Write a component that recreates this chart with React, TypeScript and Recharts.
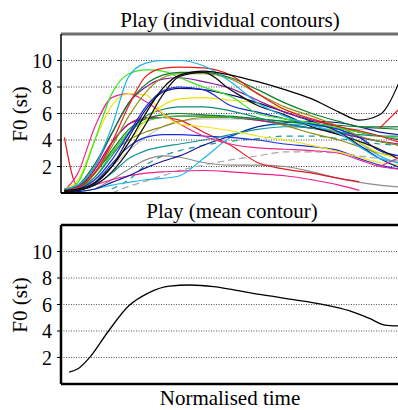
import { CartesianGrid, Line, LineChart, ReferenceLine, XAxis, YAxis } from "recharts";

const FONT = "Liberation Serif, Times New Roman, DejaVu Serif, serif";

// normalised time points shared by the individual contours
const time = [0.01, 0.05, 0.1, 0.15, 0.2, 0.25, 0.3, 0.35, 0.42, 0.5, 0.58, 0.66, 0.74, 0.82, 0.88, 0.94, 1.0];

// individual contours, F0 in semitones
const cyanPeak = [0.3, 0.6, 2.0, 5.0, 8.8, 9.8, 10.0, 10.0, 9.6, 8.4, 6.8, 5.8, 5.1, 4.5, 3.5, 2.6, 2.3];
const redPeak = [0.2, 0.4, 1.5, 3.8, 6.6, 8.8, 9.4, 9.5, 9.45, 8.9, 7.5, 6.3, 5.6, 5.0, 4.7, 4.3, 3.8];
const blackLong = [0.2, 0.3, 0.8, 2.0, 3.8, 6.0, 7.9, 8.9, 9.2, 8.9, 8.4, 7.8, 7.1, 6.1, 5.5, 5.9, 8.5];
const blackFall = [0.1, 0.2, 0.6, 1.6, 3.2, 5.2, 7.4, 8.8, 9.1, 7.8, 6.6, 5.9, 5.0, 4.4, 3.9, 3.3, 2.5];
const darkGreenPeak = [0.3, 0.6, 2.2, 4.5, 6.8, 8.2, 8.9, 9.1, 9.1, 8.7, 7.8, 6.8, 6.0, 5.4, 5.0, 4.9, 4.8];
const limePeak = [0.2, 0.8, 4.0, 7.5, 9.0, 9.3, 9.2, 8.7, 8.0, 7.3, 6.0, 5.6, 5.3, 4.9, 4.6, 4.3, 4.1];
const olivePeak = [0.2, 0.4, 1.5, 3.5, 5.8, 7.6, 8.7, 9.0, 9.0, 8.6, 7.5, 6.5, 5.8, 5.0, 4.3, 3.9, 3.6];
const purplePeak = [0.2, 0.5, 2.0, 4.5, 6.8, 8.0, 8.6, 8.7, 8.4, 7.9, 7.0, 6.1, 5.5, 5.0, 4.6, 4.3, 4.0];
const bluePeak = [0.1, 0.3, 1.0, 2.5, 4.5, 6.5, 7.7, 8.0, 7.8, 6.6, 6.1, 5.6, 5.2, 4.8, 4.2, 3.2, 2.8];
const navyPeak = [0.1, 0.2, 0.7, 2.0, 4.2, 6.3, 7.6, 7.9, 7.8, 7.4, 6.8, 6.1, 5.4, 4.6, 3.6, 2.6, 1.9];
const yellowEarly = [0.3, 1.0, 4.0, 6.6, 7.5, 7.4, 6.0, 5.2, 5.0, 4.7, 4.3, 4.0, 3.6, 3.1, 2.7, 2.3, 2.1];
const yellowLate = [0.2, 0.3, 0.8, 2.0, 3.8, 5.5, 6.6, 7.1, 7.2, 7.0, 6.8, 6.3, 5.5, 4.5, 3.8, 3.0, 2.6];
const pinkEarly = [0.2, 1.5, 5.0, 7.2, 7.5, 6.9, 6.0, 5.2, 4.3, 3.7, 3.4, 3.3, 3.2, 3.0, 2.5, 2.0, 1.8];
const pinkLow = [0.0, 0.2, 0.6, 1.0, 1.3, 1.5, 1.6, 1.65, 1.7, 1.6, 1.45, 1.3, 1.0, 0.6, 0.2, null, null];
const redDip = [4.2, 0.5, 1.8, 3.8, 5.2, 5.7, 5.7, 5.5, 4.6, 3.6, 2.3, 1.8, 1.5, 1.1, 0.85, null, null];
const tealHigh = [0.2, 0.4, 1.2, 2.8, 4.5, 5.8, 6.3, 6.5, 6.5, 6.2, 5.7, 5.2, 4.9, 4.6, 4.4, 4.3, 4.3];
const tealRise = [0.1, 0.2, 0.6, 1.5, 2.6, 3.2, 3.5, 3.7, 4.0, 4.4, 4.8, 5.0, 4.9, 4.6, 4.2, 3.9, 3.6];
const greenMid = [0.1, 0.3, 1.2, 3.0, 4.6, 5.4, 5.7, 5.8, 5.8, 5.7, 5.6, 5.4, 5.2, 4.9, 4.6, 4.3, 4.1];
const blueLow = [0.1, 0.2, 0.8, 2.2, 3.5, 4.2, 4.4, 4.4, 4.3, 4.2, 4.0, 3.7, 3.5, 3.2, 2.6, 2.1, 1.8];
const navyRise = [0.0, 0.1, 0.3, 0.8, 1.3, 1.9, 2.4, 2.8, 3.6, 4.3, 5.0, 5.3, 5.4, 5.3, 5.0, 4.6, 4.4];
const cyanRise = [0.0, 0.1, 0.3, 0.6, 0.8, 1.0, 1.1, 1.3, 2.6, 4.2, 5.0, 5.2, 5.1, 4.8, 3.8, 2.8, 2.2];
const grayArch = [null, null, 0.3, 1.0, 1.8, 2.5, 2.8, 2.7, 2.3, 2.1, 2.1, 2.0, 1.6, 1.1, 0.8, 0.6, 0.45];
const grayDashed = [null, null, null, 0.0, 0.5, 0.9, 1.3, 1.7, 2.1, 2.5, 2.8, 3.1, 3.1, 3.0, 2.8, 2.6, 2.4];
const silverMid = [0.1, 0.3, 1.0, 2.0, 3.2, 4.2, 5.0, 5.4, 5.6, 5.6, 5.5, 5.2, 4.9, 4.8, 4.8, 4.9, 5.0];
const oliveMid = [0.2, 0.5, 1.6, 3.0, 4.0, 4.6, 5.0, 5.4, 5.7, 5.7, 5.5, 5.1, 4.5, 4.0, 3.5, 3.0, 2.8];
const magentaMid = [0.1, 0.4, 1.8, 3.8, 5.2, 5.6, 5.7, 5.8, 5.8, 5.7, 5.5, 5.2, 4.9, 4.5, 4.2, 3.9, 3.7];
const greenFlat = [0.2, 0.5, 1.5, 3.2, 4.8, 5.6, 5.9, 6.0, 5.9, 5.8, 5.6, 5.4, 5.2, 5.1, 5.0, 5.0, 5.0];
const tealDashed = [null, null, null, 0.3, 1.0, 2.1, 2.8, 3.2, 3.6, 3.9, 4.1, 4.3, 4.3, 4.1, 3.9, 3.7, 3.6];
const redFlick = [null, null, null, null, null, null, null, null, null, null, null, null, null, null, null, 4.9, 6.4];
const pinkFlick = [null, null, null, null, null, null, null, null, null, null, null, null, null, null, null, 2.0, 2.7];

// mean contour
const meanTime = [0.024, 0.05, 0.086, 0.136, 0.2, 0.26, 0.32, 0.38, 0.45, 0.51, 0.6, 0.71, 0.8, 0.86, 0.91, 0.955, 1.0];
const meanF0 = [0.9, 1.15, 2.05, 3.85, 5.9, 6.9, 7.38, 7.47, 7.35, 7.1, 6.7, 6.28, 5.85, 5.45, 4.95, 4.45, 4.38];

const yTicks = [2, 4, 6, 8, 10];

const contours = [
  { key: "grayDashed", values: grayDashed, color: "#a8a8a8", dash: "7 4" },
  { key: "tealDashed", values: tealDashed, color: "#1a9a9a", dash: "6 5" },
  { key: "grayArch", values: grayArch, color: "#8c8c8c" },
  { key: "silverMid", values: silverMid, color: "#c4c4c4" },
  { key: "pinkLow", values: pinkLow, color: "#ec1e8c" },
  { key: "redDip", values: redDip, color: "#e8141e" },
  { key: "cyanRise", values: cyanRise, color: "#20b8ee" },
  { key: "navyRise", values: navyRise, color: "#141490" },
  { key: "blueLow", values: blueLow, color: "#1a2ee0" },
  { key: "tealRise", values: tealRise, color: "#149494" },
  { key: "oliveMid", values: oliveMid, color: "#8c8c14" },
  { key: "magentaMid", values: magentaMid, color: "#a0189c" },
  { key: "greenMid", values: greenMid, color: "#28d428" },
  { key: "greenFlat", values: greenFlat, color: "#0c7a30" },
  { key: "tealHigh", values: tealHigh, color: "#128a7a" },
  { key: "pinkEarly", values: pinkEarly, color: "#f0288c" },
  { key: "yellowEarly", values: yellowEarly, color: "#f4e414" },
  { key: "yellowLate", values: yellowLate, color: "#f0e000" },
  { key: "navyPeak", values: navyPeak, color: "#101080" },
  { key: "bluePeak", values: bluePeak, color: "#1428d8" },
  { key: "purplePeak", values: purplePeak, color: "#8e1a9e" },
  { key: "olivePeak", values: olivePeak, color: "#909010" },
  { key: "limePeak", values: limePeak, color: "#34e81a" },
  { key: "darkGreenPeak", values: darkGreenPeak, color: "#0a7c2a" },
  { key: "blackFall", values: blackFall, color: "#101010" },
  { key: "redPeak", values: redPeak, color: "#ea1a1a" },
  { key: "cyanPeak", values: cyanPeak, color: "#1ab4ea" },
  { key: "blackLong", values: blackLong, color: "#000000" },
  { key: "redFlick", values: redFlick, color: "#e8141e" },
  { key: "pinkFlick", values: pinkFlick, color: "#f0288c" },
];

const contourRows = time.map((t, i) => {
  const row: Record<string, number | null> = { t };
  contours.forEach((c) => {
    row[c.key] = c.values[i];
  });
  return row;
});

const meanRows = meanTime.map((t, i) => ({ t, f0: meanF0[i] }));

const tickStyle = { fontFamily: FONT, fontSize: 20, fill: "#000", style: { fontFamily: FONT } };

const margin = { top: 34, right: 0, bottom: 7, left: 0 };

export default function App() {
  return (
    <div style={{ position: "absolute", left: 0, top: 0, width: 398, height: 410, overflow: "hidden", background: "#fff", fontFamily: FONT }}>
      <div style={{ position: "absolute", left: 0, top: 0 }}>
        <LineChart width={400} height={200} data={contourRows} margin={margin}>
          <CartesianGrid vertical={false} stroke="#444" strokeDasharray="1 1.5" />
          <XAxis dataKey="t" type="number" domain={[0, 1]} hide />
          <YAxis
            domain={[0, 12]}
            ticks={yTicks}
            interval={0}
            width={61}
            tickSize={4}
            tickMargin={5}
            tick={tickStyle}
            axisLine={{ stroke: "#000", strokeWidth: 1.5 }}
            tickLine={{ stroke: "#000" }}
          />
          {contours.map((c) => (
            <Line
              key={c.key}
              dataKey={c.key}
              type="monotone"
              stroke={c.color}
              strokeWidth={1.2}
              strokeDasharray={c.dash}
              dot={false}
              isAnimationActive={false}
            />
          ))}
          <ReferenceLine y={12} stroke="#6e6e6e" strokeWidth={3} />
          <ReferenceLine y={0} stroke="#000" strokeWidth={2} />
        </LineChart>
      </div>
      <div style={{ position: "absolute", left: 0, top: 191 }}>
        <LineChart width={400} height={200} data={meanRows} margin={margin}>
          <CartesianGrid vertical={false} stroke="#555" strokeDasharray="1 1.5" />
          <XAxis dataKey="t" type="number" domain={[0, 1]} hide />
          <YAxis
            domain={[0, 12]}
            ticks={yTicks}
            interval={0}
            width={61}
            tickSize={4}
            tickMargin={5}
            tick={tickStyle}
            axisLine={{ stroke: "#000", strokeWidth: 2.5 }}
            tickLine={{ stroke: "#000" }}
          />
          <Line
            dataKey="f0"
            type="monotone"
            stroke="#000"
            strokeWidth={1.3}
            dot={false}
            isAnimationActive={false}
          />
          <ReferenceLine y={12} stroke="#000" strokeWidth={2.5} />
          <ReferenceLine y={0} stroke="#000" strokeWidth={2.5} />
        </LineChart>
      </div>
      <svg width={398} height={410} style={{ position: "absolute", left: 0, top: 0, pointerEvents: "none" }}>
        <g style={{ fontFamily: FONT, fontSize: 21 }} fill="#000">
          <text x={230} y={27} textAnchor="middle">Play (individual contours)</text>
          <text x={232} y={218} textAnchor="middle">Play (mean contour)</text>
          <text x={230} y={405} textAnchor="middle">Normalised time</text>
          <text x={27} y={114} textAnchor="middle" transform="rotate(-90 27 114)">F0 (st)</text>
          <text x={27} y={305} textAnchor="middle" transform="rotate(-90 27 305)">F0 (st)</text>
        </g>
      </svg>
    </div>
  );
}
